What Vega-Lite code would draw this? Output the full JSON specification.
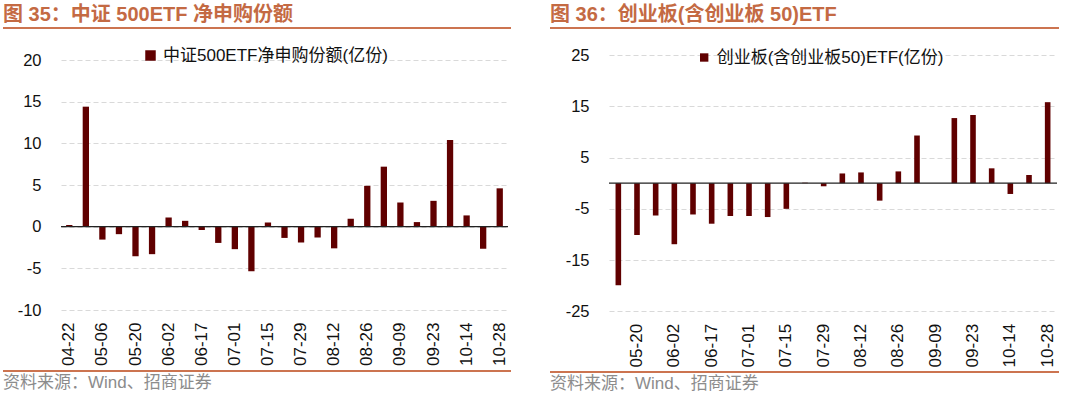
{
  "$schema": "https://vega.github.io/schema/vega-lite/v6.json",
  "padding": {"left": 3, "top": 5, "right": 0, "bottom": 0},
  "background": "white",
  "config": {
    "view": {"stroke": null},
    "font": "Liberation Sans, Noto Sans CJK SC",
    "axis": {"labelFont": "Liberation Sans, Noto Sans CJK SC"},
    "legend": {"labelFont": "Liberation Sans, Noto Sans CJK SC", "labelLimit": 500},
    "title": {"font": "Liberation Sans, Noto Sans CJK SC"}
  },
  "datasets": {
    "left": [
      {"date": "04-22", "value": 0.2},
      {"date": "04-29", "value": 14.4},
      {"date": "05-06", "value": -1.55},
      {"date": "05-13", "value": -0.9},
      {"date": "05-20", "value": -3.55},
      {"date": "05-27", "value": -3.3},
      {"date": "06-02", "value": 1.1},
      {"date": "06-09", "value": 0.7},
      {"date": "06-17", "value": -0.4},
      {"date": "06-24", "value": -1.95},
      {"date": "07-01", "value": -2.7},
      {"date": "07-08", "value": -5.35},
      {"date": "07-15", "value": 0.5},
      {"date": "07-22", "value": -1.35},
      {"date": "07-29", "value": -1.9},
      {"date": "08-05", "value": -1.3},
      {"date": "08-12", "value": -2.6},
      {"date": "08-19", "value": 0.95},
      {"date": "08-26", "value": 4.9},
      {"date": "09-02", "value": 7.2},
      {"date": "09-09", "value": 2.9},
      {"date": "09-16", "value": 0.55},
      {"date": "09-23", "value": 3.1},
      {"date": "09-30", "value": 10.4},
      {"date": "10-14", "value": 1.35},
      {"date": "10-21", "value": -2.65},
      {"date": "10-28", "value": 4.6}
    ],
    "right": [
      {"date": "05-13", "value": -19.9},
      {"date": "05-20", "value": -10.1},
      {"date": "05-27", "value": -6.3},
      {"date": "06-02", "value": -11.9},
      {"date": "06-09", "value": -6.1},
      {"date": "06-17", "value": -7.9},
      {"date": "06-24", "value": -6.4},
      {"date": "07-01", "value": -6.4},
      {"date": "07-08", "value": -6.6},
      {"date": "07-15", "value": -5.0},
      {"date": "07-22", "value": 0.1},
      {"date": "07-29", "value": -0.6},
      {"date": "08-05", "value": 1.9},
      {"date": "08-12", "value": 2.1},
      {"date": "08-19", "value": -3.4},
      {"date": "08-26", "value": 2.3},
      {"date": "09-02", "value": 9.3},
      {"date": "09-09", "value": 0},
      {"date": "09-16", "value": 12.7},
      {"date": "09-23", "value": 13.3},
      {"date": "09-30", "value": 2.9},
      {"date": "10-14", "value": -2.1},
      {"date": "10-21", "value": 1.6},
      {"date": "10-28", "value": 15.8}
    ]
  },
  "resolve": {"scale": {"color": "independent", "x": "independent", "y": "independent"}, "legend": {"color": "independent"}},
  "spacing": 39,
  "hconcat": [
    {
      "spacing": 18,
      "resolve": {"scale": {"color": "independent", "x": "independent", "y": "independent"}, "legend": {"color": "independent"}},
      "vconcat": [
        {
          "width": 508,
          "height": 2,
          "view": {"fill": "#CC7450", "stroke": null},
          "title": {"text": "图 35：中证 500ETF 净申购份额", "anchor": "start", "frame": "group", "orient": "top", "baseline": "alphabetic", "offset": -14, "fontSize": 20, "fontWeight": "bold", "color": "#C46A43"},
          "data": {"values": []},
          "mark": {"type": "text"},
          "encoding": {"text": {"field": "t", "type": "nominal"}}
        },
        {
          "spacing": 4,
          "resolve": {"scale": {"color": "independent", "x": "independent", "y": "independent"}, "legend": {"color": "independent"}},
          "vconcat": [
            {
              "spacing": 0,
              "resolve": {"scale": {"color": "independent", "x": "independent", "y": "independent"}, "legend": {"color": "independent"}},
              "hconcat": [
                {
                  "width": 1,
                  "height": 1,
                  "view": {"fill": "white", "stroke": null},
                  "data": {"values": []},
                  "mark": {"type": "text"},
                  "encoding": {"text": {"field": "t", "type": "nominal"}}
                },
                {
                  "width": 447,
                  "height": 250,
                  "layer": [
                    {
                      "data": {"name": "left"},
                      "mark": {"type": "bar", "color": "#600000"},
                      "encoding": {
                        "x": {"field": "date", "type": "nominal", "sort": null,
                          "scale": {"paddingInner": 0.62, "paddingOuter": 0.31},
                          "axis": {"values": ["04-22","05-06","05-20","06-02","06-17","07-01","07-15","07-29","08-12","08-26","09-09","09-23","10-14","10-28"],
                            "labelAngle": -90, "title": null, "domain": false, "ticks": false, "labelPadding": 12, "labelFontSize": 17, "labelColor": "#111", "labelBaseline": "middle", "labelAlign": "right"}},
                        "y": {"field": "value", "type": "quantitative",
                          "scale": {"domain": [-10, 20], "nice": false, "zero": false},
                          "axis": {"values": [-10, -5, 0, 5, 10, 15, 20], "labelExpr": "'' + datum.value", "title": null, "domain": false, "ticks": false, "grid": true, "gridDash": [5, 3], "gridColor": "#D9D9D9", "labelFontSize": 16.5, "labelPadding": 20, "minExtent": 56.7, "labelColor": "#111"}},
                        "color": {"datum": "中证500ETF净申购份额(亿份)", "type": "nominal",
                          "scale": {"range": ["#600000"]},
                          "legend": {"orient": "none", "legendX": 81, "legendY": -13, "title": null, "symbolType": "square", "symbolSize": 110, "symbolStrokeWidth": 0, "labelFontSize": 17, "labelColor": "#111", "labelOffset": 4}}
                      }
                    },
                    {
                      "data": {"values": [{"v": 0}]},
                      "mark": {"type": "rule", "color": "#222", "strokeWidth": 1.2},
                      "encoding": {"y": {"field": "v", "type": "quantitative"}}
                    }
                  ]
                }
              ]
            },
            {
              "width": 508,
              "height": 2,
              "view": {"fill": "#CC7450", "stroke": null},
              "title": {"text": "资料来源：Wind、招商证券", "orient": "bottom", "anchor": "start", "frame": "group", "baseline": "top", "offset": 3, "fontSize": 17, "fontWeight": "normal", "color": "#8C8C8C"},
              "data": {"values": []},
              "mark": {"type": "text"},
              "encoding": {"text": {"field": "t", "type": "nominal"}}
            }
          ]
        }
      ]
    },
    {
      "spacing": 18,
      "resolve": {"scale": {"color": "independent", "x": "independent", "y": "independent"}, "legend": {"color": "independent"}},
      "vconcat": [
        {
          "width": 509,
          "height": 2,
          "view": {"fill": "#CC7450", "stroke": null},
          "title": {"text": "图 36：创业板(含创业板 50)ETF", "anchor": "start", "frame": "group", "orient": "top", "baseline": "alphabetic", "offset": -14, "fontSize": 20, "fontWeight": "bold", "color": "#C46A43"},
          "data": {"values": []},
          "mark": {"type": "text"},
          "encoding": {"text": {"field": "t", "type": "nominal"}}
        },
        {
          "spacing": 4,
          "resolve": {"scale": {"color": "independent", "x": "independent", "y": "independent"}, "legend": {"color": "independent"}},
          "vconcat": [
            {
              "spacing": 0,
              "resolve": {"scale": {"color": "independent", "x": "independent", "y": "independent"}, "legend": {"color": "independent"}},
              "hconcat": [
                {
                  "width": 1,
                  "height": 1,
                  "view": {"fill": "white", "stroke": null},
                  "data": {"values": []},
                  "mark": {"type": "text"},
                  "encoding": {"text": {"field": "t", "type": "nominal"}}
                },
                {
                  "width": 448,
                  "height": 256.4,
                  "layer": [
                    {
                      "data": {"name": "right"},
                      "mark": {"type": "bar", "color": "#600000"},
                      "encoding": {
                        "x": {"field": "date", "type": "nominal", "sort": null,
                          "scale": {"paddingInner": 0.7, "paddingOuter": 0.35},
                          "axis": {"values": ["05-20","06-02","06-17","07-01","07-15","07-29","08-12","08-26","09-09","09-23","10-14","10-28"],
                            "labelAngle": -90, "title": null, "domain": false, "ticks": false, "labelPadding": 12, "labelFontSize": 17, "labelColor": "#111", "labelBaseline": "middle", "labelAlign": "right"}},
                        "y": {"field": "value", "type": "quantitative",
                          "scale": {"domain": [-25, 25], "nice": false, "zero": false},
                          "axis": {"values": [-25, -15, -5, 5, 15, 25], "labelExpr": "'' + datum.value", "title": null, "domain": false, "ticks": false, "grid": true, "gridDash": [5, 3], "gridColor": "#D9D9D9", "labelFontSize": 16.5, "labelPadding": 20, "minExtent": 57.3, "labelColor": "#111"}},
                        "color": {"datum": "创业板(含创业板50)ETF(亿份)", "type": "nominal",
                          "scale": {"range": ["#600000"]},
                          "legend": {"orient": "none", "legendX": 86.7, "legendY": -6, "title": null, "symbolType": "square", "symbolSize": 70, "symbolStrokeWidth": 0, "labelFontSize": 17, "labelColor": "#111", "labelOffset": 4}}
                      }
                    },
                    {
                      "data": {"values": [{"v": 0}]},
                      "mark": {"type": "rule", "color": "#222", "strokeWidth": 1.2},
                      "encoding": {"y": {"field": "v", "type": "quantitative"}}
                    }
                  ]
                }
              ]
            },
            {
              "width": 509,
              "height": 2,
              "view": {"fill": "#CC7450", "stroke": null},
              "title": {"text": "资料来源：Wind、招商证券", "orient": "bottom", "anchor": "start", "frame": "group", "baseline": "top", "offset": 3, "fontSize": 17, "fontWeight": "normal", "color": "#8C8C8C"},
              "data": {"values": []},
              "mark": {"type": "text"},
              "encoding": {"text": {"field": "t", "type": "nominal"}}
            }
          ]
        }
      ]
    }
  ]
}
